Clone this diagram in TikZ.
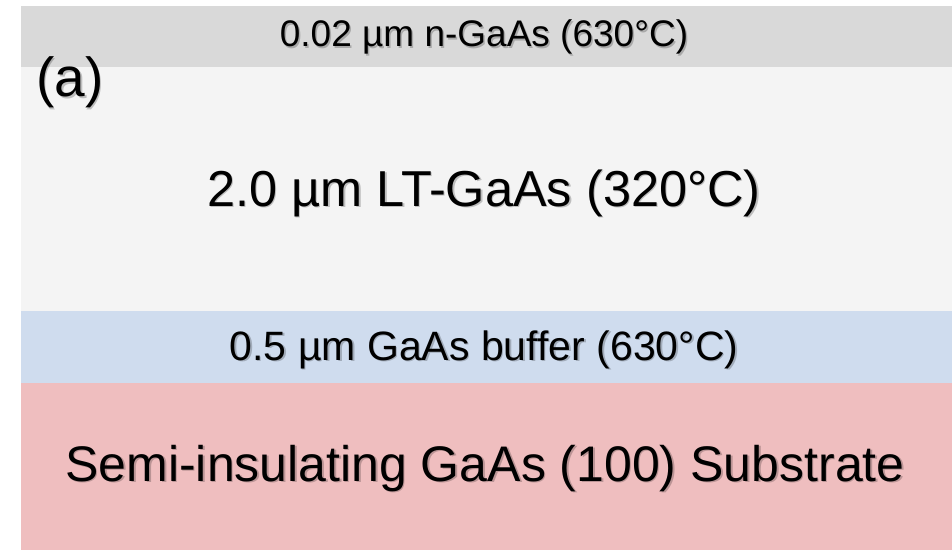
\documentclass[tikz,border=0pt]{standalone}
\usepackage{fontspec}
\setmainfont{Liberation Sans}
\definecolor{topgray}{HTML}{D9D9D9}
\definecolor{ltgray}{HTML}{F4F4F4}
\definecolor{bufblue}{HTML}{CFDCEE}
\definecolor{subpink}{HTML}{EFBEBF}
\tikzset{
  lbl/.style={anchor=base, inner sep=0pt, text=black},
  shadow/.style={anchor=base, inner sep=0pt, text=black, opacity=0.22},
}
\begin{document}
\begin{tikzpicture}[x=1pt,y=1pt]
\useasboundingbox (0,0) rectangle (952,550);
% layers (y measured from bottom)
\fill[topgray] (21,483) rectangle (952,544);
\fill[ltgray] (21,239) rectangle (952,483);
\fill[bufblue] (21,167) rectangle (952,239);
\fill[subpink] (21,0.3) rectangle (952,167);
\coordinate (ltop) at (484,503);
\coordinate (llt) at (484,344);
\coordinate (lbuf) at (484,190);
\coordinate (lsub) at (485,69);
% shadows
\node[shadow, font=\fontsize{37}{40}\selectfont] at ([shift={(1.5,-1.5)}]ltop) {0.02 µm n-GaAs (630°C)};
\node[shadow, font=\fontsize{50.5}{56}\selectfont] at ([shift={(1.5,-1.5)}]llt) {2.0 µm LT-GaAs (320°C)};
\node[shadow, font=\fontsize{41}{46}\selectfont] at ([shift={(1.5,-1.5)}]lbuf) {0.5 µm GaAs buffer (630°C)};
\node[shadow, font=\fontsize{50}{56}\selectfont] at ([shift={(1.5,-1.5)}]lsub) {Semi-insulating GaAs (100) Substrate};
\node[shadow, anchor=base west, font=\fontsize{55}{60}\selectfont] at (37.5,451.5) {(a)};
% texts
\node[lbl, font=\fontsize{37}{40}\selectfont] (ttop) at (ltop) {0.02 µm n-GaAs (630°C)};
\node[lbl, font=\fontsize{50.5}{56}\selectfont] (tlt) at (llt) {2.0 µm LT-GaAs (320°C)};
\node[lbl, font=\fontsize{41}{46}\selectfont] (tbuf) at (lbuf) {0.5 µm GaAs buffer (630°C)};
\node[lbl, font=\fontsize{50}{56}\selectfont] (tsub) at (lsub) {Semi-insulating GaAs (100) Substrate};
\node[anchor=base west, inner sep=0pt, font=\fontsize{55}{60}\selectfont] (lab) at (36,453) {(a)};
\end{tikzpicture}
\end{document}
